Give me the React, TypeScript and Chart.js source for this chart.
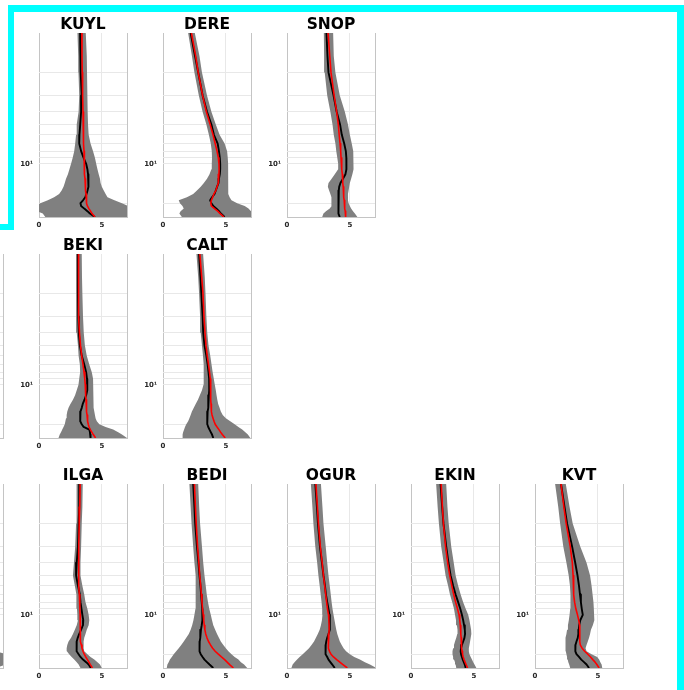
import React, { useEffect, useRef } from 'react';
import { Chart, registerables } from 'chart.js';

Chart.register(...registerables);

// Depth levels shared by every profile (top of the plot to the bottom)
const depthLevels = [1, 1.5, 2, 3, 4, 5, 6, 7, 8, 9, 10, 11, 12, 13, 14, 15, 16, 17, 18, 19, 20, 21, 22, 23, 24, 25.5];

const xTickValues = [0, 5, 7];
const xTickLabels = ['0', '5', ''];
const yTickValues = [2, 3, 4, 5, 6, 7, 8, 9, 10, 20];
const yTickLabels = ['', '', '', '', '', '', '', '', '10¹', ''];

// KUYL
const kuylMean = [3.27, 3.30, 3.33, 3.40, 3.35, 3.28, 3.22, 3.20, 3.35, 3.55, 3.75, 3.85, 3.90, 3.94, 3.94, 3.92, 3.86, 3.78, 3.68, 3.50, 3.30, 3.35, 3.60, 3.85, 4.05, 4.45];
const kuylFit = [3.40, 3.42, 3.44, 3.47, 3.50, 3.52, 3.54, 3.56, 3.58, 3.59, 3.60, 3.62, 3.64, 3.66, 3.68, 3.70, 3.72, 3.74, 3.76, 3.78, 3.80, 3.85, 3.97, 4.10, 4.22, 4.45];
const kuylLow = [3.06, 3.12, 3.14, 3.20, 3.15, 3.00, 2.95, 2.88, 2.80, 2.68, 2.55, 2.42, 2.30, 2.15, 2.05, 1.95, 1.80, 1.60, 1.20, 0.70, 0.10, -0.20, -0.20, -0.20, 0.30, 0.50];
const kuylHigh = [3.72, 3.80, 3.82, 3.86, 3.88, 3.90, 3.95, 4.10, 4.30, 4.45, 4.55, 4.65, 4.75, 4.85, 4.90, 5.00, 5.15, 5.30, 5.45, 6.00, 6.60, 7.10, 7.30, 7.30, 7.30, 7.30];

// DERE
const dereMean = [2.20, 2.55, 2.80, 3.15, 3.50, 3.85, 4.05, 4.35, 4.45, 4.52, 4.55, 4.55, 4.52, 4.45, 4.42, 4.30, 4.20, 4.10, 3.90, 3.75, 3.85, 4.00, 4.25, 4.45, 4.60, 4.90];
const dereFit = [2.26, 2.60, 2.80, 3.15, 3.45, 3.75, 3.98, 4.15, 4.30, 4.40, 4.45, 4.46, 4.45, 4.42, 4.38, 4.30, 4.20, 4.05, 3.95, 3.85, 3.80, 3.85, 4.10, 4.35, 4.55, 4.85];
const dereLow = [2.00, 2.30, 2.50, 2.85, 3.15, 3.45, 3.65, 3.80, 3.88, 3.90, 3.88, 3.85, 3.70, 3.50, 3.25, 3.00, 2.70, 2.40, 1.90, 1.25, 1.35, 1.55, 1.65, 1.40, 1.30, 1.50];
const dereHigh = [2.53, 2.90, 3.10, 3.50, 3.85, 4.20, 4.50, 4.90, 5.10, 5.15, 5.18, 5.20, 5.20, 5.18, 5.18, 5.18, 5.20, 5.20, 5.30, 5.45, 5.90, 6.50, 6.80, 7.00, 7.20, 7.20];

// SNOP
const snopMean = [3.14, 3.22, 3.30, 3.70, 3.95, 4.22, 4.36, 4.55, 4.68, 4.72, 4.73, 4.72, 4.65, 4.45, 4.25, 4.15, 4.12, 4.10, 4.10, 4.10, 4.08, 4.06, 4.08, 4.10, 4.12, 4.20];
const snopFit = [3.27, 3.40, 3.50, 3.75, 3.95, 4.08, 4.15, 4.22, 4.27, 4.30, 4.34, 4.37, 4.40, 4.42, 4.45, 4.47, 4.49, 4.51, 4.53, 4.55, 4.57, 4.59, 4.61, 4.63, 4.65, 4.68];
const snopLow = [2.93, 2.95, 3.00, 3.20, 3.45, 3.62, 3.72, 3.85, 3.92, 4.00, 4.07, 4.07, 3.80, 3.55, 3.30, 3.25, 3.35, 3.45, 3.50, 3.55, 3.55, 3.55, 3.40, 3.10, 2.90, 2.80];
const snopHigh = [3.67, 3.72, 3.85, 4.20, 4.60, 4.85, 5.00, 5.15, 5.27, 5.30, 5.30, 5.28, 5.20, 5.10, 5.00, 4.95, 4.90, 4.85, 4.85, 4.85, 4.90, 5.00, 5.10, 5.25, 5.40, 5.60];

// BEKI
const bekiMean = [3.09, 3.09, 3.10, 3.12, 3.17, 3.25, 3.40, 3.60, 3.75, 3.82, 3.86, 3.82, 3.75, 3.62, 3.48, 3.40, 3.30, 3.27, 3.27, 3.30, 3.40, 3.55, 4.00, 4.05, 4.07, 4.10];
const bekiFit = [3.14, 3.14, 3.14, 3.17, 3.22, 3.30, 3.40, 3.50, 3.58, 3.64, 3.68, 3.70, 3.72, 3.74, 3.76, 3.78, 3.80, 3.82, 3.85, 3.88, 3.92, 3.98, 4.08, 4.20, 4.32, 4.50];
const bekiLow = [2.95, 2.95, 2.95, 2.95, 3.00, 3.10, 3.15, 3.25, 3.27, 3.20, 3.14, 3.00, 2.87, 2.70, 2.50, 2.35, 2.25, 2.20, 2.15, 2.10, 2.05, 1.95, 1.85, 1.75, 1.65, 1.55];
const bekiHigh = [3.40, 3.42, 3.45, 3.50, 3.56, 3.65, 3.80, 4.00, 4.20, 4.30, 4.34, 4.34, 4.34, 4.34, 4.34, 4.36, 4.40, 4.45, 4.50, 4.60, 4.80, 5.30, 5.90, 6.30, 6.60, 7.00];

// CALT
const caltMean = [2.87, 2.98, 3.05, 3.15, 3.20, 3.30, 3.45, 3.55, 3.62, 3.67, 3.68, 3.67, 3.65, 3.62, 3.60, 3.58, 3.55, 3.52, 3.50, 3.51, 3.55, 3.60, 3.70, 3.80, 3.90, 4.00];
const caltFit = [2.93, 3.08, 3.18, 3.26, 3.34, 3.42, 3.52, 3.62, 3.70, 3.76, 3.78, 3.79, 3.80, 3.81, 3.82, 3.84, 3.86, 3.90, 3.98, 4.06, 4.15, 4.30, 4.45, 4.58, 4.72, 4.95];
const caltLow = [2.66, 2.80, 2.87, 2.95, 3.00, 3.10, 3.18, 3.22, 3.24, 3.25, 3.22, 3.10, 2.93, 2.78, 2.60, 2.45, 2.30, 2.20, 2.10, 2.00, 1.85, 1.75, 1.68, 1.60, 1.56, 1.54];
const caltHigh = [3.19, 3.32, 3.38, 3.45, 3.52, 3.62, 3.76, 3.86, 3.95, 4.04, 4.12, 4.20, 4.26, 4.32, 4.39, 4.50, 4.60, 4.75, 5.00, 5.35, 5.70, 6.00, 6.30, 6.55, 6.75, 6.95];

// ILGA
const ilgaMean = [3.22, 3.20, 3.15, 3.10, 3.00, 2.95, 3.10, 3.25, 3.30, 3.38, 3.45, 3.52, 3.50, 3.35, 3.20, 3.08, 3.00, 2.98, 2.98, 3.02, 3.15, 3.30, 3.50, 3.75, 3.95, 4.12];
const ilgaFit = [3.27, 3.24, 3.20, 3.16, 3.14, 3.15, 3.18, 3.21, 3.24, 3.26, 3.27, 3.27, 3.27, 3.28, 3.29, 3.30, 3.33, 3.37, 3.42, 3.50, 3.60, 3.72, 3.85, 3.97, 4.08, 4.25];
const ilgaLow = [3.00, 2.98, 2.95, 2.88, 2.78, 2.70, 2.85, 2.95, 3.00, 3.02, 3.05, 3.10, 3.00, 2.85, 2.70, 2.55, 2.35, 2.25, 2.20, 2.22, 2.40, 2.60, 2.80, 3.00, 3.15, 3.30];
const ilgaHigh = [3.48, 3.45, 3.40, 3.35, 3.30, 3.30, 3.45, 3.60, 3.70, 3.85, 3.95, 4.00, 3.95, 3.80, 3.70, 3.60, 3.55, 3.55, 3.55, 3.60, 3.85, 4.10, 4.40, 4.65, 4.85, 5.00];

// BEDI
const bediMean = [2.40, 2.50, 2.56, 2.70, 2.82, 2.90, 2.98, 3.03, 3.08, 3.12, 3.15, 3.12, 3.08, 3.02, 2.98, 2.95, 2.92, 2.90, 2.90, 2.92, 3.00, 3.15, 3.30, 3.50, 3.70, 4.00];
const bediFit = [2.50, 2.58, 2.64, 2.75, 2.85, 2.92, 3.00, 3.05, 3.10, 3.15, 3.20, 3.24, 3.28, 3.33, 3.40, 3.50, 3.62, 3.78, 3.95, 4.15, 4.40, 4.65, 4.90, 5.10, 5.30, 5.60];
const bediLow = [2.10, 2.20, 2.27, 2.40, 2.50, 2.55, 2.60, 2.62, 2.62, 2.58, 2.50, 2.42, 2.32, 2.20, 2.05, 1.85, 1.65, 1.45, 1.25, 1.05, 0.85, 0.70, 0.55, 0.45, 0.35, 0.30];
const bediHigh = [2.80, 2.88, 2.95, 3.10, 3.20, 3.30, 3.40, 3.48, 3.58, 3.68, 3.80, 3.90, 4.00, 4.15, 4.30, 4.45, 4.60, 4.80, 5.00, 5.20, 5.45, 5.70, 6.00, 6.20, 6.45, 6.70];

// OGUR
const ogurMean = [2.25, 2.38, 2.46, 2.62, 2.78, 2.90, 3.02, 3.10, 3.20, 3.30, 3.38, 3.42, 3.42, 3.38, 3.30, 3.20, 3.12, 3.08, 3.05, 3.05, 3.10, 3.20, 3.30, 3.45, 3.60, 3.80];
const ogurFit = [2.30, 2.42, 2.50, 2.65, 2.80, 2.90, 3.00, 3.08, 3.15, 3.22, 3.30, 3.33, 3.35, 3.35, 3.33, 3.30, 3.28, 3.28, 3.30, 3.38, 3.50, 3.70, 3.95, 4.20, 4.45, 4.80];
const ogurLow = [1.90, 2.02, 2.10, 2.25, 2.40, 2.50, 2.60, 2.68, 2.75, 2.80, 2.82, 2.78, 2.70, 2.60, 2.45, 2.30, 2.15, 1.95, 1.75, 1.50, 1.25, 1.00, 0.80, 0.60, 0.45, 0.35];
const ogurHigh = [2.70, 2.82, 2.90, 3.08, 3.20, 3.30, 3.40, 3.48, 3.55, 3.62, 3.70, 3.78, 3.85, 3.92, 4.00, 4.10, 4.20, 4.35, 4.50, 4.70, 5.00, 5.35, 5.80, 6.20, 6.60, 7.10];

// EKIN
const ekinMean = [2.35, 2.48, 2.58, 2.80, 2.98, 3.15, 3.35, 3.55, 3.75, 3.92, 4.05, 4.15, 4.22, 4.28, 4.30, 4.25, 4.15, 4.05, 3.98, 3.95, 3.98, 4.05, 4.12, 4.20, 4.28, 4.35];
const ekinFit = [2.40, 2.50, 2.58, 2.75, 2.92, 3.08, 3.25, 3.40, 3.55, 3.70, 3.82, 3.88, 3.92, 3.95, 3.97, 3.99, 4.00, 4.02, 4.04, 4.07, 4.10, 4.15, 4.22, 4.30, 4.38, 4.50];
const ekinLow = [2.00, 2.12, 2.22, 2.40, 2.60, 2.75, 2.95, 3.10, 3.28, 3.42, 3.50, 3.58, 3.65, 3.70, 3.68, 3.60, 3.50, 3.42, 3.35, 3.30, 3.30, 3.35, 3.42, 3.50, 3.55, 3.60];
const ekinHigh = [2.80, 2.90, 3.00, 3.20, 3.40, 3.55, 3.75, 3.95, 4.15, 4.35, 4.55, 4.65, 4.72, 4.78, 4.80, 4.75, 4.70, 4.65, 4.60, 4.60, 4.65, 4.75, 4.85, 4.95, 5.05, 5.20];

// KVT
const kvtMean = [2.07, 2.35, 2.55, 2.95, 3.20, 3.38, 3.50, 3.58, 3.65, 3.72, 3.80, 3.60, 3.52, 3.48, 3.45, 3.40, 3.30, 3.22, 3.20, 3.22, 3.30, 3.50, 3.68, 3.90, 4.10, 4.30];
const kvtFit = [2.07, 2.30, 2.48, 2.80, 2.97, 3.03, 3.06, 3.09, 3.15, 3.25, 3.38, 3.48, 3.55, 3.56, 3.56, 3.56, 3.57, 3.60, 3.75, 3.95, 4.20, 4.42, 4.60, 4.78, 4.92, 5.10];
const kvtLow = [1.60, 1.85, 2.00, 2.25, 2.50, 2.68, 2.78, 2.82, 2.82, 2.80, 2.75, 2.69, 2.62, 2.55, 2.50, 2.45, 2.42, 2.42, 2.42, 2.45, 2.50, 2.55, 2.60, 2.65, 2.72, 2.80];
const kvtHigh = [2.45, 2.75, 3.00, 3.60, 4.10, 4.38, 4.50, 4.58, 4.65, 4.68, 4.70, 4.72, 4.60, 4.45, 4.38, 4.30, 4.20, 4.10, 4.02, 4.10, 4.50, 4.95, 5.10, 5.20, 5.30, 5.35];

// Neighbouring panels cut off at the left edge of the figure
const n = null;
const westLowerLow = [n, n, n, n, n, n, n, n, n, n, n, n, n, n, n, n, n, n, 5.50, 5.50, 5.50, 5.50, 5.50, 5.50, 5.50, 5.50];
const westLowerHigh = [n, n, n, n, n, n, n, n, n, n, n, n, n, n, n, n, n, n, 6.20, 6.40, 7.30, 7.30, 7.30, 7.30, 7.20, 6.40];

type Series = (number | null)[];
type Station = { name: string; mean: Series; fit: Series; low: Series; high: Series };

const stations: Record<string, Station> = {
  KUYL: { name: 'KUYL', mean: kuylMean, fit: kuylFit, low: kuylLow, high: kuylHigh },
  DERE: { name: 'DERE', mean: dereMean, fit: dereFit, low: dereLow, high: dereHigh },
  SNOP: { name: 'SNOP', mean: snopMean, fit: snopFit, low: snopLow, high: snopHigh },
  BEKI: { name: 'BEKI', mean: bekiMean, fit: bekiFit, low: bekiLow, high: bekiHigh },
  CALT: { name: 'CALT', mean: caltMean, fit: caltFit, low: caltLow, high: caltHigh },
  ILGA: { name: 'ILGA', mean: ilgaMean, fit: ilgaFit, low: ilgaLow, high: ilgaHigh },
  BEDI: { name: 'BEDI', mean: bediMean, fit: bediFit, low: bediLow, high: bediHigh },
  OGUR: { name: 'OGUR', mean: ogurMean, fit: ogurFit, low: ogurLow, high: ogurHigh },
  EKIN: { name: 'EKIN', mean: ekinMean, fit: ekinFit, low: ekinLow, high: ekinHigh },
  KVT: { name: 'KVT', mean: kvtMean, fit: kvtFit, low: kvtLow, high: kvtHigh },
  WEST_MID: { name: '', mean: [], fit: [], low: [], high: [] },
  WEST_LOW: { name: '', mean: [], fit: [], low: westLowerLow, high: westLowerHigh },
};

// Geometry of the figure
const PLOT_W = 88;
const PLOT_H = 184;
const AXIS_W = 34;
const TITLE_H = 22;
const XAXIS_H = 16;
const FONT = "'DejaVu Sans', 'Liberation Sans', sans-serif";
const BOX_COLOR = '#c4c4c4';
const GRID_COLOR = '#e8e8e8';

const panelLayout = [
  { key: 'KUYL', left: 39, top: 33 },
  { key: 'DERE', left: 163, top: 33 },
  { key: 'SNOP', left: 287, top: 33 },
  { key: 'WEST_MID', left: -85, top: 254 },
  { key: 'BEKI', left: 39, top: 254 },
  { key: 'CALT', left: 163, top: 254 },
  { key: 'WEST_LOW', left: -85, top: 484 },
  { key: 'ILGA', left: 39, top: 484 },
  { key: 'BEDI', left: 163, top: 484 },
  { key: 'OGUR', left: 287, top: 484 },
  { key: 'EKIN', left: 411, top: 484 },
  { key: 'KVT', left: 535, top: 484 },
];

const frameSegments = [
  { left: 8, top: 5, width: 676, height: 7 },
  { left: 8, top: 5, width: 6, height: 225 },
  { left: 0, top: 224, width: 14, height: 6 },
  { left: 677, top: 5, width: 7, height: 685 },
];

function toPoints(values: Series) {
  const pts: { x: number; y: number }[] = [];
  values.forEach((v, i) => {
    if (v !== null && v !== undefined) pts.push({ x: v, y: depthLevels[i] });
  });
  return pts;
}

function ProfilePanel({ station, left, top }: { station: Station; left: number; top: number }) {
  const ref = useRef<HTMLCanvasElement | null>(null);
  const width = AXIS_W * 2 + PLOT_W;
  const height = TITLE_H + PLOT_H + XAXIS_H;

  useEffect(() => {
    const canvas = ref.current;
    if (!canvas) return;
    const band = [...toPoints(station.high), ...toPoints(station.low).reverse()];
    const chart = new Chart(canvas, {
      type: 'scatter',
      data: {
        datasets: [
          {
            data: toPoints(station.fit),
            showLine: true,
            borderColor: '#ff0000',
            borderWidth: 1.6,
            borderJoinStyle: 'round',
            pointRadius: 0,
            fill: false,
            clip: 0,
          },
          {
            data: toPoints(station.mean),
            showLine: true,
            borderColor: '#000000',
            borderWidth: 1.9,
            borderJoinStyle: 'round',
            pointRadius: 0,
            fill: false,
            clip: 0,
          },
          {
            data: band,
            showLine: true,
            borderColor: 'rgba(0,0,0,0)',
            borderWidth: 0,
            backgroundColor: '#808080',
            pointRadius: 0,
            fill: 'shape',
            clip: 0,
          },
        ],
      } as any,
      options: {
        responsive: false,
        animation: false,
        devicePixelRatio: 1,
        events: [],
        layout: { padding: { left: 0, right: AXIS_W, top: 0, bottom: 0 } },
        plugins: {
          legend: { display: false },
          tooltip: { enabled: false },
          title: {
            display: true,
            fullSize: false,
            text: station.name,
            color: '#000000',
            font: { family: FONT, size: 15.5, weight: 'bold', lineHeight: '16px' },
            padding: { top: 6, bottom: 0 },
          },
        },
        scales: {
          x: {
            type: 'linear',
            min: 0,
            max: 7,
            afterBuildTicks: (scale: any) => {
              scale.ticks = xTickValues.map((value) => ({ value }));
            },
            afterFit: (scale: any) => {
              scale.height = XAXIS_H;
            },
            ticks: {
              autoSkip: false,
              maxRotation: 0,
              padding: 4,
              color: '#262626',
              font: { family: FONT, size: 7, weight: 'bold' },
              callback: (value: any) => {
                const i = xTickValues.indexOf(Number(value));
                return i >= 0 ? xTickLabels[i] : '';
              },
            },
            grid: {
              drawTicks: false,
              lineWidth: 1,
              color: (ctx: any) => {
                const v = ctx.tick ? ctx.tick.value : null;
                return v === 0 || v === 7 ? BOX_COLOR : GRID_COLOR;
              },
            },
            border: { display: true, color: BOX_COLOR, width: 1 },
          },
          y: {
            type: 'logarithmic',
            reverse: true,
            min: 1,
            max: 25.5,
            afterBuildTicks: (scale: any) => {
              scale.ticks = yTickValues.map((value) => ({ value }));
            },
            afterFit: (scale: any) => {
              scale.width = AXIS_W;
            },
            ticks: {
              autoSkip: false,
              padding: 6,
              color: '#262626',
              font: { family: FONT, size: 7, weight: 'bold' },
              callback: (value: any) => {
                const i = yTickValues.indexOf(Number(value));
                return i >= 0 ? yTickLabels[i] : '';
              },
            },
            grid: { drawTicks: false, lineWidth: 1, color: GRID_COLOR },
            border: { display: false },
          },
        },
      } as any,
    });
    return () => chart.destroy();
  }, [station]);

  return (
    <canvas
      ref={ref}
      width={width}
      height={height}
      style={{
        position: 'absolute',
        left: left - AXIS_W,
        top: top - TITLE_H,
        width,
        height,
      }}
    />
  );
}

export default function App() {
  return (
    <div
      style={{
        position: 'absolute',
        left: 0,
        top: 0,
        width: 684,
        height: 690,
        overflow: 'hidden',
        background: '#ffffff',
      }}
    >
      {frameSegments.map((s, i) => (
        <div
          key={'frame' + i}
          style={{ position: 'absolute', left: s.left, top: s.top, width: s.width, height: s.height, background: '#00ffff' }}
        />
      ))}
      {panelLayout.map((p) => (
        <ProfilePanel key={p.key} station={stations[p.key]} left={p.left} top={p.top} />
      ))}
    </div>
  );
}
